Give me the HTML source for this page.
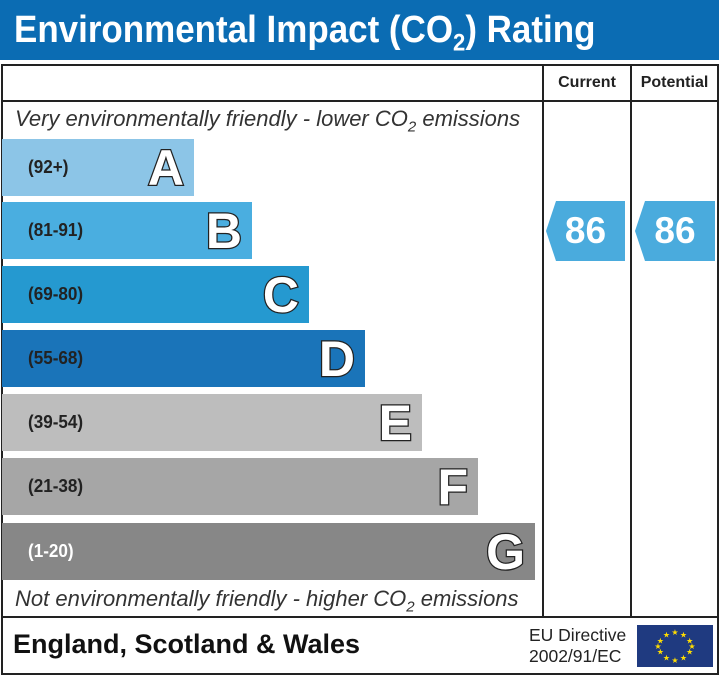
<!DOCTYPE html>
<html><head><style>
body{margin:0;width:719px;height:675px;background:#fff;position:relative;overflow:hidden;font-family:"Liberation Sans",Arial,sans-serif}
.a{position:absolute}
.hdr{left:0;top:0;width:719px;height:60px;background:#0b6cb3}
.ttl{left:14px;top:8px;color:#fff;font-weight:bold;font-size:38px;line-height:44px;white-space:nowrap;transform:scaleX(0.92);transform-origin:0 0}
.bar{position:absolute;left:2px;height:57px}
.bar .r{position:absolute;left:26px;top:0;line-height:57px;font-weight:bold;font-size:18px;color:#222;transform:scaleX(0.95);transform-origin:0 0}
.bar .L{position:absolute;right:10px;top:1px;line-height:57px;font-weight:bold;font-size:50px;color:#fff;-webkit-text-stroke:2.5px #222;paint-order:stroke fill}
.it{font-style:italic;font-size:22px;color:#333;left:15px;white-space:nowrap}
.arr{position:absolute;top:201px;height:60px;line-height:60px;color:#fff;font-weight:bold;font-size:37px;text-align:center;background:#4aabdd;clip-path:polygon(10px 0,100% 0,100% 100%,10px 100%,0 50%)}
</style></head><body>
<div class="a hdr"></div>
<div class="a ttl">Environmental Impact (CO<sub style="font-size:24px;line-height:0">2</sub>) Rating</div>
<div class="a" style="left:1px;top:64px;width:714px;height:607px;border:2px solid #222"></div>
<div class="a" style="left:2px;top:100px;width:715px;height:2px;background:#222"></div>
<div class="a" style="left:542px;top:64px;width:2px;height:553px;background:#222"></div>
<div class="a" style="left:630px;top:64px;width:2px;height:553px;background:#222"></div>
<div class="a" style="left:2px;top:616px;width:715px;height:2px;background:#222"></div>
<div class="a" style="left:544px;top:74px;width:86px;text-align:center;font-weight:bold;font-size:16px;color:#222">Current</div>
<div class="a" style="left:632px;top:74px;width:85px;text-align:center;font-weight:bold;font-size:16px;color:#222">Potential</div>
<div class="a it" style="top:106px">Very environmentally friendly - lower CO<sub style="font-size:15px">2</sub> emissions</div>
<div class="bar" style="top:139px;width:192px;background:#8cc5e7"><span class="r">(92+)</span><span class="L">A</span></div>
<div class="bar" style="top:202px;width:250px;background:#4aaee0"><span class="r">(81-91)</span><span class="L">B</span></div>
<div class="bar" style="top:266px;width:307px;background:#2599d0"><span class="r">(69-80)</span><span class="L">C</span></div>
<div class="bar" style="top:330px;width:363px;background:#1a74b9"><span class="r">(55-68)</span><span class="L">D</span></div>
<div class="bar" style="top:394px;width:420px;background:#bdbdbd"><span class="r">(39-54)</span><span class="L">E</span></div>
<div class="bar" style="top:458px;width:476px;background:#a6a6a6"><span class="r">(21-38)</span><span class="L">F</span></div>
<div class="bar" style="top:523px;width:533px;background:#878787"><span class="r" style="color:#fff">(1-20)</span><span class="L">G</span></div>
<div class="a it" style="top:586px">Not environmentally friendly - higher CO<sub style="font-size:15px">2</sub> emissions</div>
<div class="arr" style="left:546px;width:79px">86</div>
<div class="arr" style="left:635px;width:80px">86</div>
<div class="a" style="left:13px;top:629px;font-weight:bold;font-size:27px;color:#111;white-space:nowrap">England, Scotland &amp; Wales</div>
<div class="a" style="left:529px;top:625px;font-size:17.5px;color:#222;line-height:21px">EU Directive<br>2002/91/EC</div>
<svg class="a" style="left:637px;top:625px" width="76" height="42" viewBox="0 0 76 42">
<rect width="76" height="42" fill="#1f3a80"/>
<g fill="#ffdd00" font-size="8" text-anchor="middle" font-family="DejaVu Sans">
<text x="38" y="10">★</text><text x="46.5" y="12.3">★</text><text x="52.7" y="18.5">★</text><text x="55" y="24">★</text><text x="52.7" y="29.5">★</text><text x="46.5" y="35.7">★</text><text x="38" y="38">★</text><text x="29.5" y="35.7">★</text><text x="23.3" y="29.5">★</text><text x="21" y="24">★</text><text x="23.3" y="18.5">★</text><text x="29.5" y="12.3">★</text>
</g></svg>
</body></html>
